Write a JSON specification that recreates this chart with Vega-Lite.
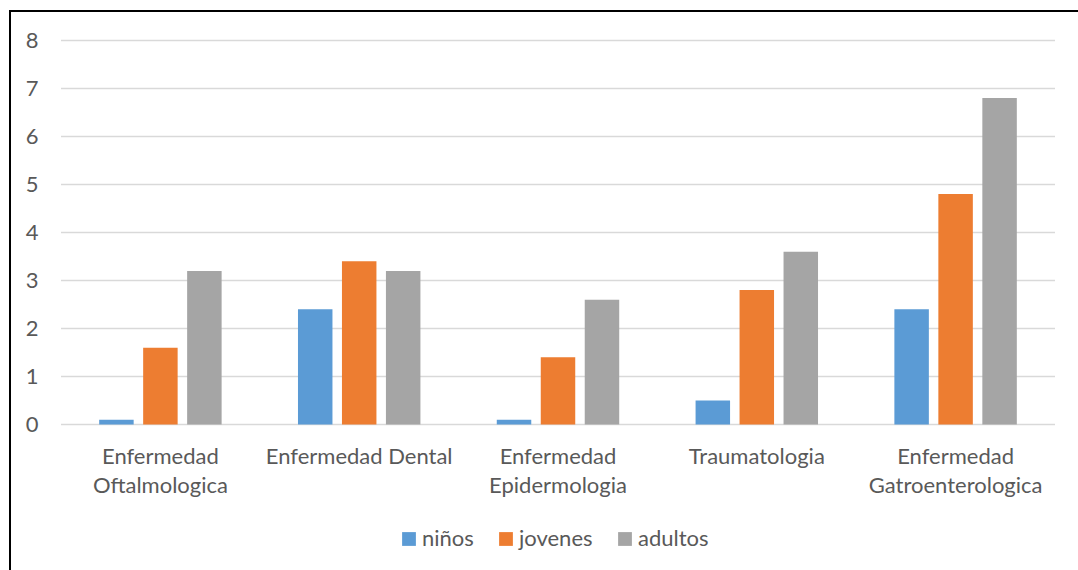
{
  "$schema": "https://vega.github.io/schema/vega-lite/v6.json",
  "autosize": {"type": "none"},
  "padding": {"left": 10, "top": 11, "right": -12, "bottom": -16},
  "width": 1080,
  "height": 575,
  "background": "#ffffff",
  "config": {
    "view": {"stroke": "#000000", "strokeWidth": 2},
    "font": "Lato"
  },
  "layer": [
    {
      "data": {"values": [{"t": 0}, {"t": 1}, {"t": 2}, {"t": 3}, {"t": 4}, {"t": 5}, {"t": 6}, {"t": 7}, {"t": 8}]},
      "mark": {"type": "rule", "color": "#d9d9d9", "strokeWidth": 1.5},
      "encoding": {
        "y": {
          "field": "t", "type": "quantitative",
          "scale": {"domain": [0, 8], "range": [413.5, 29.5], "nice": false},
          "axis": {
            "title": null, "domain": false, "ticks": false, "grid": false,
            "labelPadding": 0, "offset": -28, "values": [0, 1, 2, 3, 4, 5, 6, 7, 8],
            "labelFontSize": 22, "labelFont": "Lato", "labelColor": "#595959"
          }
        },
        "x": {"datum": 0, "type": "quantitative", "scale": {"domain": [0, 1], "range": [51, 1045]}, "axis": null},
        "x2": {"datum": 1}
      }
    },
    {
      "data": {"values": [
        {"categoria": "Enfermedad Oftalmologica", "grupo": "niños", "valor": 0.1},
        {"categoria": "Enfermedad Oftalmologica", "grupo": "jovenes", "valor": 1.6},
        {"categoria": "Enfermedad Oftalmologica", "grupo": "adultos", "valor": 3.2},
        {"categoria": "Enfermedad Dental", "grupo": "niños", "valor": 2.4},
        {"categoria": "Enfermedad Dental", "grupo": "jovenes", "valor": 3.4},
        {"categoria": "Enfermedad Dental", "grupo": "adultos", "valor": 3.2},
        {"categoria": "Enfermedad Epidermologia", "grupo": "niños", "valor": 0.1},
        {"categoria": "Enfermedad Epidermologia", "grupo": "jovenes", "valor": 1.4},
        {"categoria": "Enfermedad Epidermologia", "grupo": "adultos", "valor": 2.6},
        {"categoria": "Traumatologia", "grupo": "niños", "valor": 0.5},
        {"categoria": "Traumatologia", "grupo": "jovenes", "valor": 2.8},
        {"categoria": "Traumatologia", "grupo": "adultos", "valor": 3.6},
        {"categoria": "Enfermedad Gatroenterologica", "grupo": "niños", "valor": 2.4},
        {"categoria": "Enfermedad Gatroenterologica", "grupo": "jovenes", "valor": 4.8},
        {"categoria": "Enfermedad Gatroenterologica", "grupo": "adultos", "valor": 6.8}
      ]},
      "mark": {"type": "bar"},
      "encoding": {
        "x": {
          "field": "categoria", "type": "nominal", "sort": null,
          "scale": {"range": [51, 1045], "paddingInner": 0, "paddingOuter": 0},
          "axis": {
            "title": null, "domain": false, "ticks": false, "grid": false,
            "labelAngle": 0, "labelPadding": 22, "offset": -161.5,
            "labelBaseline": "top", "labelLineHeight": 29, "labelFontSize": 22,
            "labelFont": "Lato", "labelColor": "#595959", "labelLimit": 400,
            "labelExpr": "datum.label == 'Enfermedad Dental' || datum.label == 'Traumatologia' ? datum.label : split(datum.label, ' ')"
          }
        },
        "xOffset": {"field": "grupo", "type": "nominal", "sort": ["niños", "jovenes", "adultos"], "scale": {"paddingInner": 0.216, "paddingOuter": 0.868}},
        "y": {
          "field": "valor", "type": "quantitative",
          "scale": {"domain": [0, 8], "range": [413.5, 29.5], "nice": false},
          "axis": {
            "title": null, "domain": false, "ticks": false, "grid": false,
            "labelPadding": 0, "offset": -28, "values": [0, 1, 2, 3, 4, 5, 6, 7, 8],
            "labelFontSize": 22, "labelFont": "Lato", "labelColor": "#595959"
          }
        },
        "color": {
          "field": "grupo", "type": "nominal",
          "scale": {"domain": ["niños", "jovenes", "adultos"], "range": ["#5B9BD5", "#ED7D31", "#A5A5A5"]},
          "legend": {
            "title": null, "orient": "none", "legendX": 388, "legendY": 517,
            "direction": "horizontal", "symbolType": "square", "symbolSize": 190,
            "symbolStrokeWidth": 0, "labelFontSize": 22, "labelFont": "Lato",
            "labelColor": "#595959", "labelOffset": 2, "columnPadding": 21, "padding": 0
          }
        }
      }
    }
  ],
  "resolve": {"scale": {"x": "independent"}}
}
